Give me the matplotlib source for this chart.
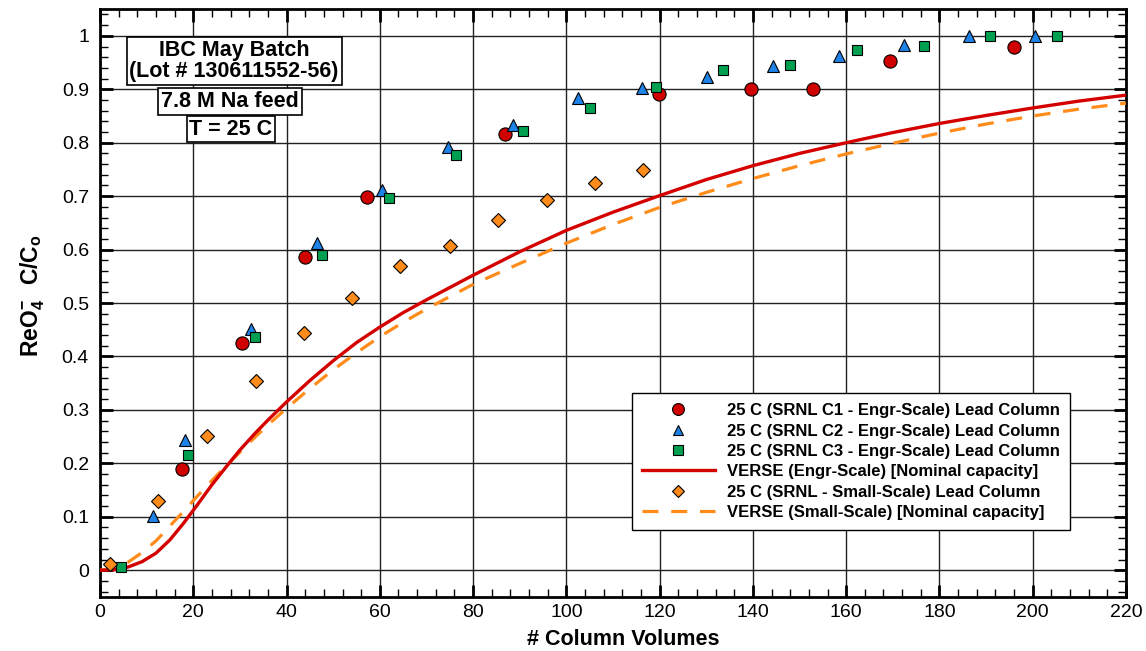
import matplotlib
matplotlib.use("Agg")
import matplotlib.pyplot as plt
from matplotlib.ticker import MultipleLocator, FuncFormatter

plt.rcParams['font.family'] = ['Liberation Sans', 'DejaVu Sans']
plt.rcParams['mathtext.fontset'] = 'custom'
plt.rcParams['mathtext.rm'] = 'Liberation Sans'
plt.rcParams['mathtext.bf'] = 'Liberation Sans:bold'

# ---- data ----
c1_x = [17.6, 30.4, 44.0, 57.2, 86.8, 119.9, 139.6, 152.9, 169.4, 196.0]
c1_y = [0.189, 0.425, 0.586, 0.699, 0.816, 0.891, 0.901, 0.901, 0.953, 0.979]

c2_x = [11.4, 18.2, 32.4, 46.5, 60.5, 74.6, 88.5, 102.5, 116.3, 130.2, 144.3, 158.4, 172.4, 186.3, 200.5]
c2_y = [0.101, 0.243, 0.451, 0.612, 0.712, 0.792, 0.833, 0.884, 0.902, 0.923, 0.944, 0.963, 0.983, 1.0, 1.0]

c3_x = [4.5, 18.9, 33.2, 47.6, 62.0, 76.3, 90.7, 105.1, 119.2, 133.6, 147.9, 162.3, 176.7, 190.8, 205.2]
c3_y = [0.006, 0.215, 0.436, 0.590, 0.697, 0.777, 0.822, 0.865, 0.904, 0.936, 0.946, 0.974, 0.981, 1.0, 1.0]

ss_x = [2.1, 12.4, 22.9, 33.4, 43.7, 54.1, 64.4, 75.0, 85.4, 95.8, 106.1, 116.5]
ss_y = [0.011, 0.130, 0.251, 0.355, 0.444, 0.510, 0.569, 0.607, 0.655, 0.693, 0.724, 0.749]

verse_engr_x = [0, 3, 6, 9, 12, 15, 18, 21, 24, 27, 30, 33, 36, 40, 45, 50, 55, 60, 65, 70,
                80, 90, 100, 110, 120, 130, 140, 150, 160, 170, 180, 190, 200, 210, 220]
verse_engr_y = [0, 0.001, 0.006, 0.016, 0.032, 0.057, 0.089, 0.124, 0.160, 0.193, 0.225, 0.254,
                0.281, 0.315, 0.355, 0.392, 0.426, 0.455, 0.482, 0.506, 0.552, 0.596, 0.636,
                0.670, 0.701, 0.731, 0.757, 0.780, 0.800, 0.819, 0.836, 0.851, 0.865, 0.878, 0.889]

verse_ss_x = [0, 3, 6, 9, 12, 15, 18, 21, 24, 27, 30, 33, 36, 40, 45, 50, 55, 60, 65, 70,
              80, 90, 100, 110, 120, 130, 140, 150, 160, 170, 180, 190, 200, 210, 220]
verse_ss_y = [0, 0.004, 0.015, 0.033, 0.055, 0.083, 0.111, 0.140, 0.168, 0.195, 0.221, 0.247,
              0.272, 0.303, 0.340, 0.375, 0.407, 0.437, 0.464, 0.489, 0.535, 0.574, 0.612,
              0.647, 0.679, 0.707, 0.733, 0.757, 0.779, 0.799, 0.818, 0.835, 0.850, 0.863, 0.874]

x_ticks = list(range(0, 221, 20))
y_ticks = [0, 0.1, 0.2, 0.3, 0.4, 0.5, 0.6, 0.7, 0.8, 0.9, 1.0]

# ---- figure ----
fig = plt.figure(figsize=(11.46, 6.51), dpi=100)
ax = fig.add_axes([0.0873, 0.083, 0.8952, 0.903])

ax.set_xlim(0, 220)
ax.set_ylim(-0.05, 1.05)
ax.set_xticks(x_ticks)
ax.set_yticks(y_ticks)
ax.xaxis.set_minor_locator(MultipleLocator(4))
ax.yaxis.set_minor_locator(MultipleLocator(0.02))
ax.yaxis.set_major_formatter(FuncFormatter(lambda v, p: ('%g' % round(v, 2))))
ax.grid(True, which='major', color='#222222', lw=1.0, zorder=0)
ax.set_axisbelow(True)

ax.tick_params(which='both', direction='in', top=True, right=True, labelsize=14)
ax.tick_params(axis='y', which='major', pad=8)
ax.tick_params(axis='x', which='major', pad=5)
ax.tick_params(which='major', length=9, width=2)
ax.tick_params(which='minor', length=5.5, width=1)
for s in ax.spines.values():
    s.set_linewidth(2)

ms_kw = dict(linestyle='none', markeredgecolor='black', markeredgewidth=0.8)
ax.plot(c1_x, c1_y, marker='o', color='#D00000', markersize=9.5,
        label='25 C (SRNL C1 - Engr-Scale) Lead Column', zorder=5, **ms_kw)
ax.plot(c2_x, c2_y, marker='^', color='#1E82E6', markersize=8.5,
        label='25 C (SRNL C2 - Engr-Scale) Lead Column', zorder=5, **ms_kw)
ax.plot(c3_x, c3_y, marker='s', color='#00A050', markersize=7.3,
        label='25 C (SRNL C3 - Engr-Scale) Lead Column', zorder=5, **ms_kw)
ax.plot(verse_engr_x, verse_engr_y, color='#D40000', lw=2.4,
        label='VERSE (Engr-Scale) [Nominal capacity]', zorder=4)
ax.plot(ss_x, ss_y, marker='D', color='#FF8C1A', markersize=7.2,
        label='25 C (SRNL - Small-Scale) Lead Column', zorder=5, **ms_kw)
ax.plot(verse_ss_x, verse_ss_y, color='#FF8C1A', lw=2.3, linestyle=(0, (5, 4)),
        label='VERSE (Small-Scale) [Nominal capacity]', zorder=3)

ax.set_xlabel('# Column Volumes', fontsize=15.5, fontweight='bold', labelpad=4)
ax.xaxis.set_label_coords(0.51, -0.055)
ax.set_ylabel(r'$\mathbf{ReO_4^{-}\ \ C/C_o}$', fontsize=16.5, labelpad=12)
ax.yaxis.set_label_coords(-0.052, 0.513)

leg = ax.legend(loc='lower right', bbox_to_anchor=(0.945, 0.114), frameon=True, fancybox=False,
                edgecolor='black', framealpha=1, prop={'weight': 'bold', 'size': 12},
                handlelength=4.4, markerscale=0.9, labelspacing=0.32, borderpad=0.6,
                borderaxespad=0.0, handletextpad=0.7)
leg.get_frame().set_linewidth(1.0)

box = dict(boxstyle='square,pad=0.13', facecolor='white', edgecolor='black', lw=1.2)
ax.text(0.1306, 0.912, 'IBC May Batch\n(Lot # 130611552-56)', transform=ax.transAxes,
        ha='center', va='center', fontsize=15.5, fontweight='bold', bbox=box, linespacing=1.02)
ax.text(0.1267, 0.8427, '7.8 M Na feed', transform=ax.transAxes,
        ha='center', va='center', fontsize=15.5, fontweight='bold', bbox=box)
ax.text(0.1277, 0.796, 'T = 25 C', transform=ax.transAxes,
        ha='center', va='center', fontsize=15.5, fontweight='bold', bbox=box)

fig.savefig('out.png', dpi=100)
